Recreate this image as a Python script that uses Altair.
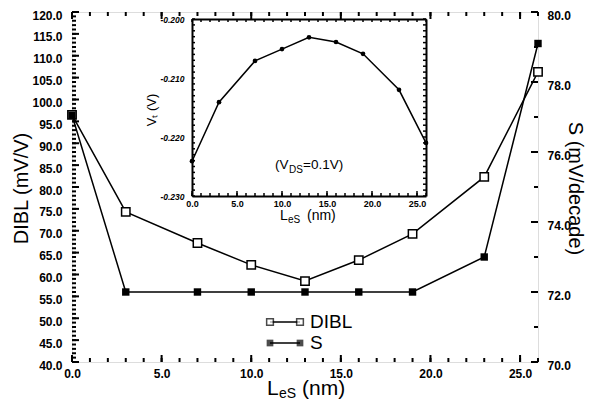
import altair as alt
import pandas as pd

# ---- data ----
les = [0, 3, 7, 10, 13, 16, 19, 23, 26]
dibl = [96.5, 74.3, 67.2, 62.2, 58.5, 63.3, 69.3, 82.3, 106.3]
s_slope = [77.05, 72.0, 72.0, 72.0, 72.0, 72.0, 72.0, 73.0, 79.1]
vt = [-0.2241, -0.2141, -0.2071, -0.2051, -0.2031, -0.2039, -0.2059, -0.2120, -0.2210]

x_labels = [0, 5, 10, 15, 20, 25]
x_minor = list(range(0, 27))
dibl_labels = list(range(40, 121, 5))
dibl_minor = list(range(40, 121))
s_labels = [70, 72, 74, 76, 78, 80]
s_minor = list(range(70, 81))
vt_labels = [-0.230, -0.220, -0.210, -0.200]
vt_minor = [round(-0.230 + 0.001 * i, 3) for i in range(31)]
legend_labels = ["DIBL", "S"]

df = pd.DataFrame({"les": les, "dibl": dibl, "s": s_slope, "vt": vt})
one = pd.DataFrame({"k": [0]})

W, H = 466, 350
FONT = "Liberation Sans"

X = alt.Scale(domain=[0, 26], nice=False, zero=False)
YL = alt.Scale(domain=[40, 120], nice=False, zero=False)
YR = alt.Scale(domain=[70, 80], nice=False, zero=False)
IX = alt.Scale(domain=[0, 26], range=[120, 354], nice=False, zero=False)
IY = alt.Scale(domain=[-0.23, -0.2], range=[184, 7], nice=False, zero=False)


def xticks(values, scale, y0, dy, w=2):
    return alt.Chart(pd.DataFrame({"v": values})).mark_rule(color="black", strokeWidth=w).encode(
        x=alt.X("v:Q", scale=scale, axis=None), y=alt.value(y0), y2=alt.value(y0 + dy))


def yticks(values, scale, x0, dx, w=2):
    return alt.Chart(pd.DataFrame({"v": values})).mark_rule(color="black", strokeWidth=w).encode(
        y=alt.Y("v:Q", scale=scale, axis=None), x=alt.value(x0), x2=alt.value(x0 + dx))


def frame_ax(orient, offset):
    return alt.Axis(orient=orient, offset=offset, ticks=False, labels=False, title=None,
                    grid=False, domain=True, domainColor="black", domainWidth=2)


def xhelp(scale, axis):
    return alt.Chart(df).mark_point(opacity=0).encode(
        x=alt.X("les:Q", scale=scale, axis=axis))


def yhelp(field, scale, axis):
    return alt.Chart(df).mark_point(opacity=0).encode(
        y=alt.Y(field, type="quantitative", scale=scale, axis=axis))


lab = dict(labelFont=FONT, labelColor="black", labelFontWeight="bold", grid=False,
           labelFlush=False, labelOverlap=False)

# ---- main chart: DIBL (left axis) ----
dibl_chart = alt.Chart(df).mark_line(
    color="black", strokeWidth=1.5,
    point=alt.OverlayMarkDef(shape="square", filled=True, fill="white", stroke="black",
                             strokeWidth=1.5, size=70),
).encode(
    x=alt.X("les:Q", scale=X, axis=alt.Axis(
        orient="bottom", values=x_labels, format=".1f", labelFontSize=12, labelPadding=6,
        ticks=False, domain=False, title=None, **lab)),
    y=alt.Y("dibl:Q", scale=YL, axis=alt.Axis(
        orient="left", values=dibl_labels, format=".1f", labelFontSize=12, labelPadding=10,
        labelOffset=3,
        ticks=False, domain=False, title="DIBL (mV/V)", titleFont=FONT, titleFontSize=20,
        titleFontWeight="normal", titleColor="black", titleX=-45, titleY=176,
        titleAngle=270, titleAlign="center", titleBaseline="alphabetic", **lab)),
)

group_a = alt.layer(
    xticks(x_minor, X, H, -4),
    xticks(x_labels, X, H, -7),
    xticks(x_minor, X, 0, 4),
    xticks(x_labels, X, 0, 7),
    yticks(dibl_minor, YL, 0, 4),
    yticks(dibl_labels, YL, 0, 7),
    dibl_chart,
).resolve_axis(x="independent", y="independent")

# ---- main chart: S (right axis) ----
s_chart = alt.Chart(df).mark_line(
    color="black", strokeWidth=1.5,
    point=alt.OverlayMarkDef(shape="square", filled=True, color="black", size=55),
).encode(
    x=alt.X("les:Q", scale=X, axis=None),
    y=alt.Y("s:Q", scale=YR, axis=alt.Axis(
        orient="right", values=s_labels, format=".1f", labelFontSize=12, labelPadding=9,
        labelOffset=3,
        ticks=False, domain=False, title="S (mV/decade)", titleFont=FONT, titleFontSize=20,
        titleFontWeight="normal", titleColor="black", titleX=30, titleY=176,
        titleAngle=90, titleAlign="center", titleBaseline="alphabetic", **lab)),
)

group_b = alt.layer(
    yticks(s_minor, YR, W, -4),
    yticks(s_labels, YR, W, -7),
    s_chart,
).resolve_axis(x="independent", y="independent")

main = alt.layer(group_a, group_b).resolve_scale(y="independent").resolve_axis(
    x="independent", y="independent")

# ---- inset: Vt ----
vt_chart = alt.Chart(df).mark_line(
    color="black", strokeWidth=1.5,
    point=alt.OverlayMarkDef(shape="circle", filled=True, color="black", size=22),
).encode(
    x=alt.X("les:Q", scale=IX, axis=alt.Axis(
        orient="bottom", offset=-(H - 184), values=x_labels, format=".1f", labelFontSize=9,
        labelPadding=3, ticks=False, domain=True, domainColor="black", domainWidth=2,
        title=None, **lab)),
    y=alt.Y("vt:Q", scale=IY, axis=alt.Axis(
        orient="left", offset=-120, values=vt_labels, format=".3f", labelFontSize=8.5,
        labelFontStyle="italic", labelPadding=8, ticks=False, domain=True,
        domainColor="black", domainWidth=2, title=None,
        labelExpr="replace(datum.label, '\u2212', '-')", **lab)),
)

inset = alt.layer(
    xhelp(IX, frame_ax("bottom", -(H - 7))),
    yhelp("vt", IY, frame_ax("left", -354)),
    xticks(x_minor, IX, 184, -3, 1.5),
    xticks(x_labels, IX, 184, -5, 1.5),
    xticks(x_minor, IX, 7, 3, 1.5),
    yticks(vt_minor, IY, 120, 3, 1.5),
    yticks(vt_minor, IY, 354, -3, 1.5),
    vt_chart,
).resolve_axis(x="independent", y="independent")


# ---- text annotations, titles with subscripts, legend ----
def txt(s, x, y, size, align="left", baseline="alphabetic", angle=0, weight="normal"):
    kw = dict(text=s, font=FONT, fontSize=size, align=align, baseline=baseline,
              color="black", fontWeight=weight)
    if angle:
        kw["angle"] = angle
    return alt.Chart(one).mark_text(**kw).encode(x=alt.value(x), y=alt.value(y))


texts = [
    # main x title  L_eS (nm)
    txt("L", 195, 383, 21),
    txt("eS", 207, 386, 14),
    txt("(nm)", 230, 383, 21),
    # inset x title
    txt("L", 208, 208, 14),
    txt("eS", 216, 211, 10),
    txt("(nm)", 235, 208, 14),
    # inset y title
    txt("V\u209c (V)", 80, 98, 13, align="center", baseline="middle", angle=270),
    # inset annotation (V_DS=0.1V)
    txt("(V", 203, 157, 13.5),
    txt("DS", 217, 161, 10),
    txt("=0.1V)", 231, 157, 13.5),
]

leg = []
for label, y, filled in [(legend_labels[0], 310, False), (legend_labels[1], 331, True)]:
    leg.append(alt.Chart(one).mark_rule(color="black", strokeWidth=1.5).encode(
        x=alt.value(198), x2=alt.value(228), y=alt.value(y)))
    for sx in (198, 228):
        if filled:
            pm = alt.Chart(one).mark_point(shape="square", filled=True, color="black", size=45)
        else:
            pm = alt.Chart(one).mark_point(shape="square", filled=True, fill="white",
                                           stroke="black", strokeWidth=1.5, size=45)
        leg.append(pm.encode(x=alt.value(sx), y=alt.value(y)))
    leg.append(txt(label, 238, y, 19, baseline="middle"))

chart = alt.layer(main, inset, *texts, *leg).resolve_scale(
    x="independent", y="independent").resolve_axis(
    x="independent", y="independent").properties(
    width=W, height=H,
    autosize=alt.AutoSizeParams(type="none"),
    padding={"left": 64, "top": 4, "right": 49, "bottom": 39},
).configure_view(stroke="black", strokeWidth=2).configure(font=FONT)

chart.save("out.html", embed_options={"renderer": "svg", "actions": False})
